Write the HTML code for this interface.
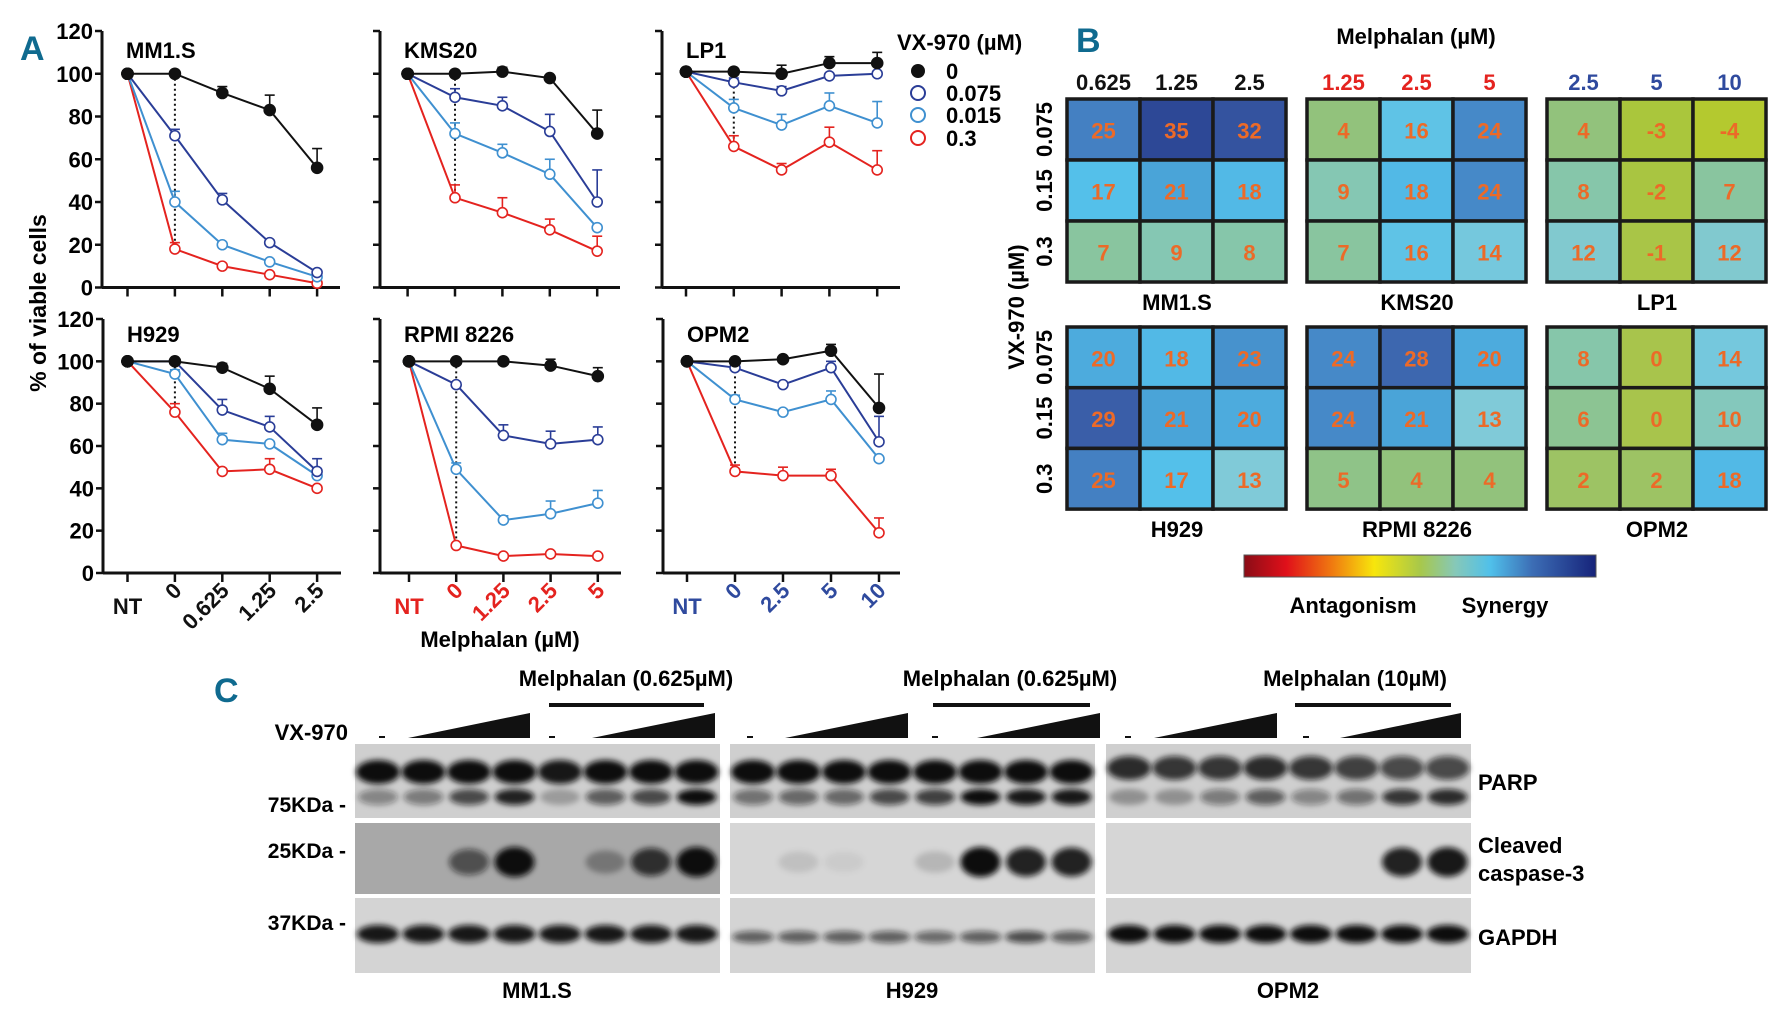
<!DOCTYPE html>
<html><head><meta charset="utf-8"><style>
html,body{margin:0;padding:0;background:#fff;}
svg{display:block;font-family:"Liberation Sans Narrow","Liberation Sans",sans-serif;font-weight:bold;}
</style></head><body>
<svg id="fig" width="1777" height="1015" viewBox="0 0 1777 1015" xmlns="http://www.w3.org/2000/svg">
<defs><filter id="blur" x="-50%" y="-50%" width="200%" height="200%"><feGaussianBlur stdDeviation="3"/></filter></defs>
<text x="20" y="60" font-size="34" fill="#0f6a8f">A</text>
<text x="1076" y="52" font-size="34" fill="#0f6a8f">B</text>
<text x="214" y="702" font-size="34" fill="#0f6a8f">C</text>
<text transform="translate(46,303) rotate(-90)" text-anchor="middle" font-size="23">% of viable cells</text>
<text x="500" y="647" text-anchor="middle" font-size="22">Melphalan (µM)</text>
<g id="linecharts"></g>
<g id="legend">
<text x="897" y="50" font-size="22">VX-970 (µM)</text>
<circle cx="918" cy="71" r="7" fill="#111"/><text x="946" y="79" font-size="22">0</text>
<circle cx="918" cy="93" r="7" fill="#fff" stroke="#2a3d97" stroke-width="2"/><text x="946" y="101" font-size="22">0.075</text>
<circle cx="918" cy="115" r="7" fill="#fff" stroke="#3f90d0" stroke-width="2"/><text x="946" y="123" font-size="22">0.015</text>
<circle cx="918" cy="138" r="7" fill="#fff" stroke="#e4231f" stroke-width="2"/><text x="946" y="146" font-size="22">0.3</text>
</g>
<text x="1416" y="44" text-anchor="middle" font-size="22">Melphalan (µM)</text>
<text transform="translate(1024,307) rotate(-90)" text-anchor="middle" font-size="22">VX-970 (µM)</text>
<g id="heatmaps"></g>
<defs><linearGradient id="cbar" x1="0" x2="1" y1="0" y2="0">
<stop offset="0" stop-color="#8a0c16"/><stop offset="0.12" stop-color="#e0101a"/><stop offset="0.25" stop-color="#f07a10"/><stop offset="0.37" stop-color="#f7e60c"/><stop offset="0.5" stop-color="#a8c84a"/><stop offset="0.6" stop-color="#86c8b8"/><stop offset="0.7" stop-color="#50c0ea"/><stop offset="0.82" stop-color="#3c6db5"/><stop offset="1" stop-color="#16237a"/></linearGradient></defs>
<rect x="1244" y="555" width="352" height="22" fill="url(#cbar)" stroke="#555" stroke-width="1"/>
<text x="1353" y="613" text-anchor="middle" font-size="22">Antagonism</text>
<text x="1505" y="613" text-anchor="middle" font-size="22">Synergy</text>
<g id="blots"></g>
</svg>
<script>
const NS="http://www.w3.org/2000/svg";
function mk(tag,attrs,parent,txt){const e=document.createElementNS(NS,tag);for(const k in attrs)e.setAttribute(k,attrs[k]);if(txt!==undefined)e.textContent=txt;parent.appendChild(e);return e;}
// ---------- line chart data ----------
const cellLines=["MM1.S","KMS20","LP1","H929","RPMI 8226","OPM2"];
const xLabelsA=["NT","0","0.625","1.25","2.5"];
const xLabelsB=["NT","0","1.25","2.5","5"];
const xLabelsC=["NT","0","2.5","5","10"];
const yTicks=[0,20,40,60,80,100,120];
const seriesNames=["0","0.075","0.015","0.3"];
const mm1sVals=[[100,100,91,83,56],[100,71,41,21,7],[100,40,20,12,5],[100,18,10,6,2]];
const kms20Vals=[[100,100,101,98,72],[100,89,85,73,40],[100,72,63,53,28],[100,42,35,27,17]];
const lp1Vals=[[101,101,100,105,105],[101,96,92,99,100],[101,84,76,85,77],[101,66,55,68,55]];
const h929Vals=[[100,100,97,87,70],[100,100,77,69,48],[100,94,63,61,46],[100,76,48,49,40]];
const rpmiVals=[[100,100,100,98,93],[100,89,65,61,63],[100,49,25,28,33],[100,13,8,9,8]];
const opm2Vals=[[100,100,101,105,78],[100,97,89,97,62],[100,82,76,82,54],[100,48,46,46,19]];
const mm1sErr=[[0,0,3,7,9],[0,3,3,1,1],[0,5,1,1,1],[0,3,1,1,1]];
const kms20Err=[[0,0,2,1,11],[0,4,4,8,15],[0,5,4,7,1],[0,6,7,5,7]];
const lp1Err=[[0,0,4,3,5],[0,2,2,1,1],[0,4,5,6,10],[0,5,3,7,9]];
const h929Err=[[0,0,2,6,8],[0,1,5,5,6],[0,2,3,1,1],[0,4,1,5,1]];
const rpmiErr=[[0,0,1,3,4],[0,1,5,6,6],[0,3,2,6,6],[0,1,1,1,1]];
const opm2Err=[[0,0,1,3,16],[0,1,1,3,12],[0,2,1,4,1],[0,3,4,3,7]];
const allVals=[mm1sVals,kms20Vals,lp1Vals,h929Vals,rpmiVals,opm2Vals];
const allErr=[mm1sErr,kms20Err,lp1Err,h929Err,rpmiErr,opm2Err];
const seriesColors=["#111","#2a3d97","#3f90d0","#e4231f"];
const panels=[
 {ax:102,end:340,t0:127.5,dt:47.4,yb:287.5,yt:31,labels:xLabelsA,lc:"#111",ylab:true},
 {ax:380,end:620,t0:407.6,dt:47.4,yb:287.5,yt:31,labels:xLabelsB,lc:"#e4231f"},
 {ax:662,end:900,t0:686,dt:47.8,yb:287.5,yt:31,labels:xLabelsC,lc:"#2f4a9e"},
 {ax:103,end:341,t0:127.5,dt:47.4,yb:573,yt:319,labels:xLabelsA,lc:"#111",ylab:true,xl:true},
 {ax:380,end:621,t0:409,dt:47.2,yb:573,yt:319,labels:xLabelsB,lc:"#e4231f",xl:true},
 {ax:663,end:900,t0:687,dt:48,yb:573,yt:319,labels:xLabelsC,lc:"#2f4a9e",xl:true}];
const LC=document.getElementById('linecharts');
panels.forEach((p,pi)=>{
 const g=mk('g',{},LC);
 
 
 const xs=i=>p.t0+i*p.dt;
 const ys=v=>p.yb-v*(p.yb-p.yt)/120;
 mk('line',{x1:p.ax,y1:p.yt,x2:p.ax,y2:p.yb,stroke:"#111","stroke-width":3},g);
 mk('line',{x1:p.ax,y1:p.yb,x2:p.end,y2:p.yb,stroke:"#111","stroke-width":3},g);
 yTicks.forEach(t=>{mk('line',{x1:p.ax-7,y1:ys(t),x2:p.ax,y2:ys(t),stroke:"#111","stroke-width":2.5},g);
  if(p.ylab){const tl=mk('text',{x:p.ax-9,y:ys(t)+8,"text-anchor":"end","font-size":22},g,String(t));
   }});
 p.labels.forEach((l,i)=>{mk('line',{x1:xs(i),y1:p.yb,x2:xs(i),y2:p.yb+9,stroke:"#111","stroke-width":2.5},g);
  if(p.xl){let t;
   if(i===0)t=mk('text',{x:xs(i),y:614,"text-anchor":"middle","font-size":22,fill:p.lc},g,l);
   else t=mk('text',{transform:`translate(${xs(i)+8},${592}) rotate(-45)`,"text-anchor":"end","font-size":22,fill:p.lc},g,l);
   }});
 const tt=mk('text',{x:p.ax+24,y:(pi<3?58:342),"font-size":22},g,cellLines[pi]);
 
 const V=allVals[pi],E=allErr[pi];
 mk('line',{x1:xs(1),y1:ys(V[0][1]),x2:xs(1),y2:ys(V[3][1]),stroke:"#111","stroke-width":2,"stroke-dasharray":"2,3"},g);
 for(let s=3;s>=0;s--){
  const pts=V[s].map((v,i)=>xs(i)+','+ys(v)).join(' ');
  const pl=mk('polyline',{points:pts,fill:"none",stroke:seriesColors[s],"stroke-width":2},g);
  
  
  V[s].forEach((v,i)=>{
   if(E[s][i]>0){mk('line',{x1:xs(i),y1:ys(v),x2:xs(i),y2:ys(v+E[s][i]),stroke:seriesColors[s],"stroke-width":1.6},g);
    mk('line',{x1:xs(i)-5,y1:ys(v+E[s][i]),x2:xs(i)+5,y2:ys(v+E[s][i]),stroke:seriesColors[s],"stroke-width":1.6},g);}
   const c=mk('circle',{cx:xs(i),cy:ys(v),r:(s===0||i===0)?5.5:5,fill:(s===0||i===0)?"#111":"#fff",stroke:(i===0)?"#111":seriesColors[s],"stroke-width":1.6},g);
   
   
  });
 }
});
// ---------- heatmaps ----------
const hmNames=["MM1.S","KMS20","LP1","H929","RPMI 8226","OPM2"];
const hmColLabelsA=["0.625","1.25","2.5"];
const hmColLabelsB=["1.25","2.5","5"];
const hmColLabelsC=["2.5","5","10"];
const hmRowLabels=["0.075","0.15","0.3"];
const hmMM1S=[[25,35,32],[17,21,18],[7,9,8]];
const hmKMS20=[[4,16,24],[9,18,24],[7,16,14]];
const hmLP1=[[4,-3,-4],[8,-2,7],[12,-1,12]];
const hmH929=[[20,18,23],[29,21,20],[25,17,13]];
const hmRPMI=[[24,28,20],[24,21,13],[5,4,4]];
const hmOPM2=[[8,0,14],[6,0,10],[2,2,18]];
const hmAll=[hmMM1S,hmKMS20,hmLP1,hmH929,hmRPMI,hmOPM2];
const cstops=[[-6,[200,206,20]],[-3,[170,198,60]],[0,[168,196,76]],[4,[146,194,124]],[8,[134,198,170]],[13,[128,202,216]],[17,[84,192,234]],[21,[74,164,216]],[25,[68,128,194]],[29,[58,94,168]],[35,[45,72,150]]];
function cmap(v){if(v<=cstops[0][0])return 'rgb('+cstops[0][1]+')';
 for(let i=1;i<cstops.length;i++){if(v<=cstops[i][0]){const a=cstops[i-1],b=cstops[i],t=(v-a[0])/(b[0]-a[0]);
  return 'rgb('+a[1].map((c,k)=>Math.round(c+(b[1][k]-c)*t)).join(',')+')';}}
 return 'rgb('+cstops[cstops.length-1][1]+')';}
const hmPos=[[1067,99],[1307,99],[1547,99],[1067,327],[1307,327],[1547,327]];
const colColors=["#111","#e4231f","#2f4a9e"];
const colSets=[hmColLabelsA,hmColLabelsB,hmColLabelsC];
const HM=document.getElementById('heatmaps');
hmAll.forEach((M,hi)=>{
 const g=mk('g',{},HM);
 
 
 const [x0,y0]=hmPos[hi];const cw=73,chh=(hi<3?61:60.7);
 M.forEach((row,r)=>row.forEach((v,c)=>{
  const cell=mk('rect',{x:x0+c*cw,y:y0+r*chh,width:cw,height:chh,fill:cmap(v),stroke:"#1a1a1a","stroke-width":3.5},g);
  
  
  mk('text',{x:x0+c*cw+cw/2,y:y0+r*chh+chh/2+9,"text-anchor":"middle","font-size":22,fill:"#ec6a28"},g,String(v));
 }));
 mk('text',{x:x0+110,y:y0+3*chh+28,"text-anchor":"middle","font-size":22},g,hmNames[hi]);
 if(hi<3)colSets[hi].forEach((l,c)=>mk('text',{x:x0+c*cw+cw/2,y:90,"text-anchor":"middle","font-size":22,fill:colColors[hi]},g,l));
 if(hi===0||hi===3)hmRowLabels.forEach((l,r)=>mk('text',{transform:`translate(${1052},${y0+r*chh+chh/2}) rotate(-90)`,"text-anchor":"middle","font-size":22},g,l));
});
// ---------- western blots ----------
const blotCells=["MM1.S","H929","OPM2"];
const blotX=[355,730,1106];
const parpUpper=[[1,1,1,1,.95,1,1,1],[1,1,1,1,1,1,1,1],[.85,.8,.8,.85,.8,.75,.7,.7]];
const parpLower=[[.4,.45,.7,.9,.25,.6,.7,1],[.5,.55,.55,.7,.75,1,.95,.95],[.3,.3,.45,.6,.4,.5,.8,.85]];
const caspase=[[0,0,.6,1,0,.3,.8,1],[0,.1,.05,0,.15,1,.9,.9],[0,0,0,0,0,0,.9,.95]];
const gapdh=[[.95,.95,.95,.95,.95,.95,.95,.95],[.6,.6,.6,.6,.55,.6,.7,.6],[1,1,1,1,1,1,1,1]];
const BL=document.getElementById('blots');
blotX.forEach((x0,bi)=>{
 const g=mk('g',{},BL);
 
 
 mk('rect',{x:x0,y:744,width:365,height:74,fill:"#cfcfcf"},g);
 mk('rect',{x:x0,y:823,width:365,height:71,fill:bi===0?"#a8a8a8":"#d6d6d6"},g);
 mk('rect',{x:x0,y:898,width:365,height:75,fill:"#d4d4d4"},g);
 const lx=i=>x0+23+i*45.5;
 for(let i=0;i<8;i++){
  mk('ellipse',{cx:lx(i),cy:(bi===2?768:772),rx:22,ry:12,fill:"#111","fill-opacity":parpUpper[bi][i],filter:"url(#blur)"},g);
  mk('ellipse',{cx:lx(i),cy:797,rx:20,ry:8,fill:"#111","fill-opacity":parpLower[bi][i],filter:"url(#blur)"},g);
  if(caspase[bi][i]>0)mk('ellipse',{cx:lx(i),cy:(bi===2?862:862),rx:20,ry:10+caspase[bi][i]*5,fill:"#111","fill-opacity":caspase[bi][i],filter:"url(#blur)"},g);
  mk('ellipse',{cx:lx(i),cy:(bi===1?937:934),rx:21,ry:bi===1?6:9,fill:"#111","fill-opacity":gapdh[bi][i],filter:"url(#blur)"},g);
 }
 mk('text',{x:x0+182,y:998,"text-anchor":"middle","font-size":22},g,blotCells[bi]);
});
const C=BL;
[["Melphalan (0.625µM)",626],["Melphalan (0.625µM)",1010],["Melphalan (10µM)",1355]].forEach(([t,x])=>mk('text',{x:x,y:686,"text-anchor":"middle","font-size":22},C,t));
[[549,704],[933,1090],[1295,1451]].forEach(([a,b])=>mk('rect',{x:a,y:703,width:b-a,height:4,fill:"#111"},C));
mk('text',{x:348,y:740,"text-anchor":"end","font-size":22},C,"VX-970");
[[408,530],[592,715],[785,908],[977,1100],[1154,1277],[1340,1461]].forEach(([a,b])=>mk('polygon',{points:`${a},738 ${b},738 ${b},713`,fill:"#111"},C));
[382,552,750,935,1128,1306].forEach(x=>mk('rect',{x:x-3,y:736,width:6,height:2,fill:"#111"},C));
[["75KDa",812],["25KDa",858],["37KDa",930]].forEach(([t,y])=>mk('text',{x:346,y:y,"text-anchor":"end","font-size":21},C,t+" -"));
mk('text',{x:1478,y:790,"font-size":22},C,"PARP");
mk('text',{x:1478,y:853,"font-size":22},C,"Cleaved");
mk('text',{x:1478,y:881,"font-size":22},C,"caspase-3");
mk('text',{x:1478,y:945,"font-size":22},C,"GAPDH");
</script>
</body></html>
